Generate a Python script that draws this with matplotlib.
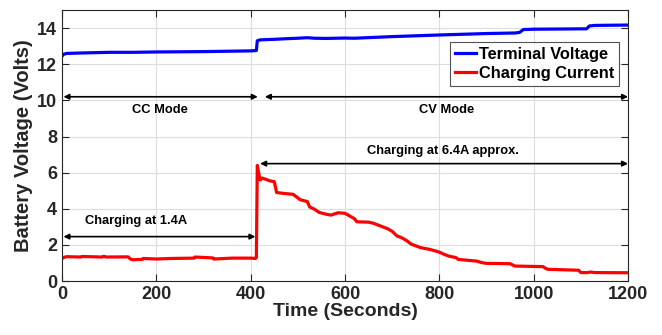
import matplotlib.pyplot as plt

# terminal voltage (V) vs time (s)
volt_t = [0, 3, 10, 50, 100, 150, 200, 300, 400, 412, 414, 420, 450, 480, 500, 520,
          535, 560, 600, 620, 700, 800, 900, 960, 970, 978, 1000, 1100, 1112, 1118, 1130, 1200]
volt_v = [12.45, 12.55, 12.6, 12.63, 12.66, 12.66, 12.68, 12.7, 12.74, 12.76, 13.3, 13.35,
          13.38, 13.42, 13.44, 13.47, 13.44, 13.43, 13.45, 13.44, 13.53, 13.62, 13.7, 13.73,
          13.76, 13.92, 13.94, 13.96, 13.96, 14.12, 14.15, 14.17]

# charging current (A) vs time (s)
curr_t = [0, 5, 10, 40, 42, 85, 88, 95, 140, 145, 150, 170, 172, 200, 230, 280, 282,
          320, 322, 360, 400, 410, 412, 414, 416, 420, 425, 440, 450, 455, 470, 490, 500,
          505, 520, 525, 535, 545, 560, 570, 585, 600, 610, 620, 625, 650, 660, 670, 680,
          690, 700, 710, 720, 730, 740, 750, 760, 780, 790, 800, 810, 820, 835, 840, 860,
          880, 890, 900, 950, 960, 1020, 1025, 1030, 1095, 1100, 1115, 1120, 1130, 1200]
curr_v = [1.25, 1.32, 1.35, 1.33, 1.36, 1.33, 1.37, 1.33, 1.34, 1.22, 1.18, 1.2, 1.25,
          1.22, 1.25, 1.27, 1.33, 1.28, 1.22, 1.27, 1.27, 1.25, 1.3, 6.4, 6.1, 5.6, 5.7,
          5.55, 5.5, 4.9, 4.85, 4.8, 4.6, 4.5, 4.4, 4.1, 3.98, 3.8, 3.7, 3.65, 3.78, 3.75,
          3.6, 3.45, 3.28, 3.26, 3.2, 3.1, 3.0, 2.9, 2.75, 2.5, 2.4, 2.25, 2.05, 1.95, 1.85,
          1.75, 1.68, 1.6, 1.48, 1.38, 1.3, 1.2, 1.15, 1.1, 1.02, 0.98, 0.96, 0.83, 0.8,
          0.7, 0.65, 0.6, 0.47, 0.47, 0.5, 0.47, 0.46]

plt.rcParams['font.family'] = ['Liberation Sans', 'DejaVu Sans']
plt.rcParams['font.weight'] = 'bold'

fig = plt.figure(figsize=(6.62, 3.35), dpi=100)
ax = fig.add_axes([0.0937, 0.161, 0.855, 0.809])

ax.plot(volt_t, volt_v, color='#0000ff', lw=2.3, label='Terminal Voltage')
ax.plot(curr_t, curr_v, color='#ff0000', lw=2.3, label='Charging Current')

ax.set_xlim(0, 1200)
ax.set_ylim(0, 15)
ax.set_xticks(range(0, 1201, 200))
ax.set_yticks(range(0, 15, 2))
ax.grid(True, color='#dddddd', lw=0.8)
ax.tick_params(direction='in', top=True, right=True, labelsize=13, colors='#262626', length=5)
for lab in ax.get_xticklabels() + ax.get_yticklabels():
    lab.set_fontweight('bold')
for s in ax.spines.values():
    s.set_color('#262626')

ax.set_xlabel('Time (Seconds)', fontsize=14, fontweight='bold', color='#262626', labelpad=0)
ax.set_ylabel('Battery Voltage (Volts)', fontsize=14.5, fontweight='bold', color='#262626', labelpad=3)

arr = dict(arrowstyle='<|-|>', color='black', lw=1.2, mutation_scale=8, shrinkA=0, shrinkB=0)
ax.annotate('', xy=(3, 10.2), xytext=(415, 10.2), arrowprops=arr)
ax.annotate('', xy=(430, 10.2), xytext=(1200, 10.2), arrowprops=arr)
ax.annotate('', xy=(420, 6.5), xytext=(1200, 6.5), arrowprops=arr)
ax.annotate('', xy=(3, 2.46), xytext=(410, 2.46), arrowprops=arr)

ax.text(208, 9.45, 'CC Mode', ha='center', va='center', fontsize=9.3, fontweight='bold')
ax.text(815, 9.45, 'CV Mode', ha='center', va='center', fontsize=9.3, fontweight='bold')
ax.text(808, 7.2, 'Charging at 6.4A approx.', ha='center', va='center', fontsize=9.3, fontweight='bold')
ax.text(157, 3.33, 'Charging at 1.4A', ha='center', va='center', fontsize=9.3, fontweight='bold')

leg = ax.legend(loc='upper right', bbox_to_anchor=(0.984, 0.882), fontsize=11.8,
                frameon=True, fancybox=False, handlelength=1.3, handletextpad=0.15,
                borderpad=0.3, labelspacing=0.25, borderaxespad=0)
leg.get_frame().set_edgecolor('#262626')
leg.get_frame().set_linewidth(0.8)
for t in leg.get_texts():
    t.set_fontweight('bold')

fig.savefig('out.png', dpi=100)
